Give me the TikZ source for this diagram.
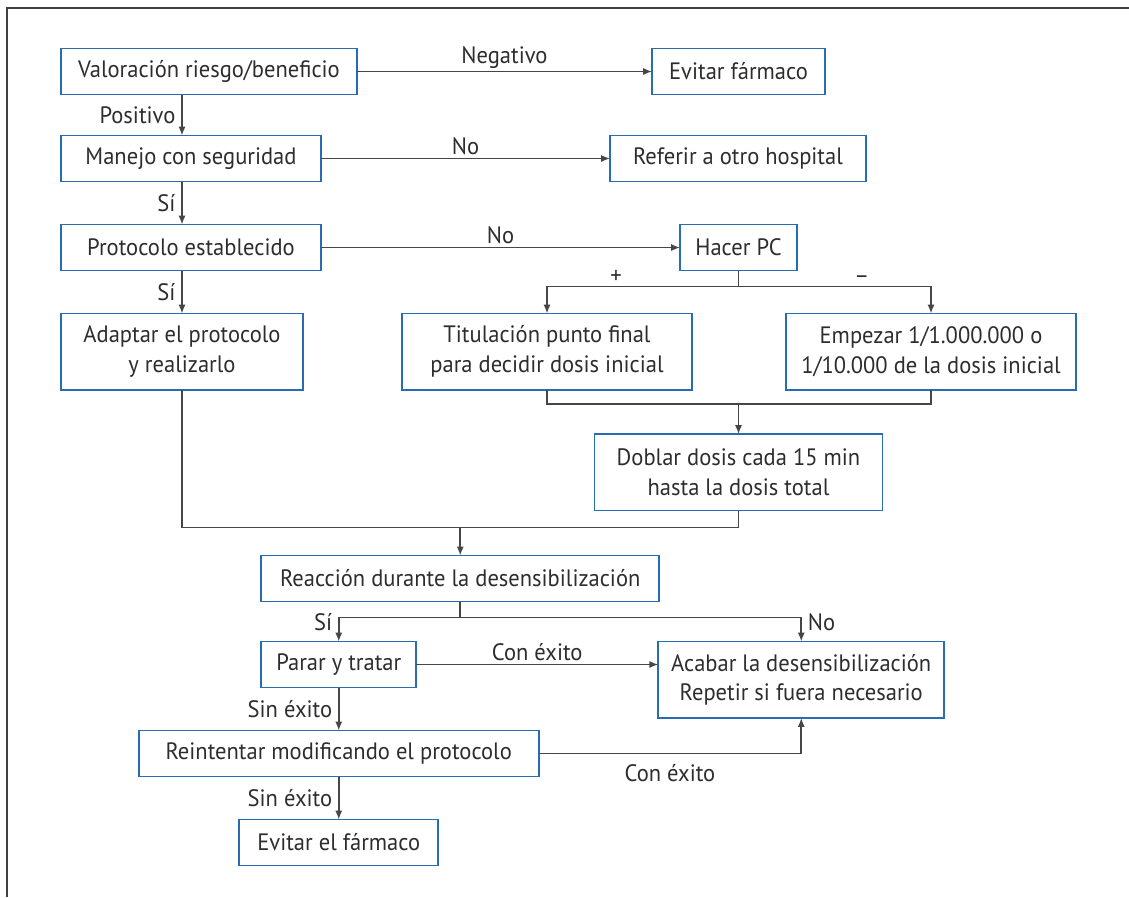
\documentclass[tikz,border=0pt]{standalone}
\usepackage{fontspec}
\setmainfont{PT Sans}[FakeStretch=0.95]
\usetikzlibrary{arrows.meta, positioning, calc}
\definecolor{azulcaja}{RGB}{41,108,176}
\definecolor{gristrazo}{RGB}{70,70,70}
\definecolor{gristexto}{RGB}{45,45,45}

\begin{document}
\begin{tikzpicture}[auto, node distance=0.86cm, >={Latex[length=5pt,width=4pt]},
	color=gristrazo, line width=0.9pt, text=gristexto, inner ysep=1.5pt,
	font=\fontsize{13.5}{17}\selectfont,
	caja/.style={draw=azulcaja, line width=1pt, outer sep=0pt, minimum height=0.92cm, inner xsep=2pt, align=center},
	caja2/.style={caja, minimum height=1.53cm}]
	\useasboundingbox (0,0) rectangle (22.58,-17.94);
	\draw[line width=1.2pt, black!75] (0.14,-17.94) -- (0.14,-0.16) -- (22.58,-0.16);

	\node[caja, minimum width=5.92cm]	(A)	at (4.18,-1.43)								{Valoración riesgo/beneficio};
	\node[caja, minimum width=3.46cm]	(B)	[right=5.9cm of A]							{Evitar fármaco};
	\node[caja, minimum width=5.2cm]	(C)	[below=0.82cm of A.south west, anchor=north west]	{Manejo con seguridad};
	\node[caja, minimum width=5.12cm]	(D)	[right=5.78cm of C]							{Referir a otro hospital};
	\node[caja, minimum width=5.2cm]	(E)	[below=of C.south west, anchor=north west]	{Protocolo establecido};
	\node[caja, minimum width=2.34cm]	(F)	[right=7.18cm of E]							{Hacer PC};
	\node[caja2, minimum width=4.84cm]	(G)	[below=of E.south west, anchor=north west]	{Adaptar el protocolo\\y realizarlo};
	\node[caja2, minimum width=5.8cm]	(H)	[below=of F, xshift=-3.83cm]				{Titulación punto final\\para decidir dosis inicial};
	\node[caja2, minimum width=5.8cm]	(I)	[below=of F, xshift=3.85cm]					{Empezar 1/1.000.000 o\\1/10.000 de la dosis inicial};

	\draw (H.south) -- ++(0,-0.28) coordinate (h1) -| (I.south);
	\coordinate (h2) at (h1 -| F);
	\node[caja2, minimum width=5.76cm]	(J)	[below=0.6cm of h2]							{Doblar dosis cada 15 min\\hasta la dosis total};

	\coordinate (k1) at ($(G.south |- J.south)!0.5!(J.south) + (0,-0.34)$);
	\node[caja, minimum width=7.96cm]	(K)	[below=0.56cm of k1]						{Reacción durante la desensibilización};
	\node[caja, minimum width=3.1cm]	(L)	[below=0.8cm of K.south west, anchor=north west]	{Parar y tratar};
	\node[caja2, minimum width=5.72cm]	(M)	[right=4.84cm of L.north east, anchor=north west]	{Acabar la desensibilización\\Repetir si fuera necesario};
	\node[caja, minimum width=8cm]		(N)	[below=of L]								{Reintentar modificando el protocolo};
	\node[caja, minimum width=3.98cm]	(O)	[below=of N]								{Evitar el fármaco};

	\path[->]
	(A)				edge						node	{Negativo}	(B)
	(A.south -| G)	edge						node[swap]	{Positivo}	(C.north -| G)
	(C)				edge						node	{No}		(D)
	(C.south -| G)	edge						node[swap]	{Sí}		(E.north -| G)
	(E)				edge						node	{No}		(F)
	(E.south -| G)	edge						node[swap]	{Sí}		(G)
	(h2)			edge									(J)
	(k1)			edge									(K)
	(L)				edge						node	{Con éxito}	(L.east -| M.west)
	(L)				edge						node[swap]	{Sin éxito}	(L |- N.north)
	(N.south -| O)	edge						node[swap]	{Sin éxito}	(O)
;

	\draw[->] (F.south) -- ++(0,-0.32) coordinate (f1) -| node[pos=0.32, above] {+} (H.north);
	\draw[->] (f1) -| node[pos=0.32, above] {–} (I.north);
	\draw (G.south) |- (k1) -| (J.south);
	\draw (K.south) -- ++(0,-0.32) coordinate (k2);
	\draw[->] (k2) -| node[pos=0.6, left] {Sí} (L.north);
	\draw[->] (k2) -| node[pos=0.6, right] {No} (M.north);
	\draw[->] (N.east) -| node[pos=0.25, below, yshift=-4pt] {Con éxito} (M.south);
\end{tikzpicture}
\end{document}
